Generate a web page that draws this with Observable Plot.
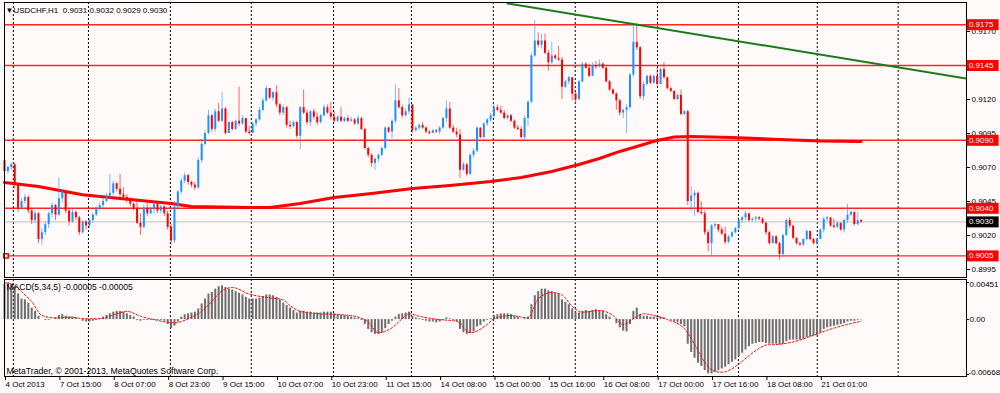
<!DOCTYPE html>
<html><head><meta charset="utf-8">
<script src="https://cdn.jsdelivr.net/npm/d3@7"></script>
<script src="https://cdn.jsdelivr.net/npm/@observablehq/plot@0.6"></script>
<style>
html,body{margin:0;padding:0;background:#fffafa;}
#chart svg{display:block;}
</style></head><body><div id="chart"></div>
<script>
// ---------- data ----------
const symbol = "USDCHF,H1";
const lastOHLC = [0.9031, 0.9032, 0.9029, 0.9030];
const firstOpen = 0.9075;
const close = [
0.9067,0.9070,0.9072,0.9057,0.9040,0.9045,0.9048,0.9038,0.9031,0.9036,
0.9017,0.9022,0.9028,0.9036,0.9042,0.9035,0.9047,0.9052,0.9038,0.9030,
0.9037,0.9033,0.9022,0.9030,0.9027,0.9031,0.9035,0.9040,0.9042,0.9045,
0.9049,0.9051,0.9058,0.9054,0.9050,0.9048,0.9047,0.9043,0.9040,0.9029,
0.9026,0.9040,0.9036,0.9039,0.9043,0.9038,0.9041,0.9036,0.9026,0.9016,
0.9041,0.9052,0.9060,0.9064,0.9059,0.9057,0.9055,0.9075,0.9087,0.9095,
0.9108,0.9098,0.9111,0.9104,0.9113,0.9095,0.9103,0.9098,0.9104,0.9102,
0.9106,0.9096,0.9095,0.9102,0.9105,0.9112,0.9119,0.9128,0.9121,0.9125,
0.9116,0.9110,0.9114,0.9101,0.9100,0.9103,0.9093,0.9114,0.9110,0.9103,
0.9111,0.9107,0.9103,0.9108,0.9114,0.9110,0.9107,0.9104,0.9107,0.9104,
0.9106,0.9104,0.9105,0.9102,0.9106,0.9098,0.9084,0.9079,0.9073,0.9076,
0.9079,0.9084,0.9099,0.9096,0.9104,0.9119,0.9114,0.9108,0.9111,0.9116,
0.9097,0.9099,0.9101,0.9099,0.9096,0.9095,0.9097,0.9096,0.9099,0.9106,
0.9113,0.9099,0.9096,0.9094,0.9068,0.9072,0.9065,0.9079,0.9082,0.9099,
0.9092,0.9102,0.9105,0.9108,0.9114,0.9112,0.9110,0.9106,0.9108,0.9104,
0.9099,0.9098,0.9092,0.9106,0.9118,0.9152,0.9163,0.9160,0.9163,0.9154,
0.9147,0.9152,0.9150,0.9149,0.9129,0.9133,0.9136,0.9124,0.9120,0.9133,
0.9146,0.9143,0.9137,0.9145,0.9144,0.9146,0.9143,0.9133,0.9127,0.9124,
0.9119,0.9110,0.9112,0.9114,0.9138,0.9162,0.9158,0.9122,0.9131,0.9137,
0.9132,0.9137,0.9131,0.9142,0.9136,0.9128,0.9126,0.9120,0.9123,0.9109,
0.9111,0.9045,0.9049,0.9051,0.9037,0.9036,0.9022,0.9014,0.9027,0.9028,
0.9024,0.9021,0.9015,0.9019,0.9022,0.9025,0.9031,0.9033,0.9036,0.9031,
0.9032,0.9033,0.9032,0.9029,0.9022,0.9014,0.9019,0.9014,0.9006,0.9020,
0.9031,0.9027,0.9018,0.9014,0.9013,0.9017,0.9023,0.9017,0.9014,0.9017,
0.9024,0.9032,0.9033,0.9027,0.9026,0.9029,0.9024,0.9031,0.9035,0.9037,
0.9028,0.9031,0.9030];
const high = [
0.9076,0.9071,0.9073,0.9073,0.9048,0.9047,0.9050,0.9049,0.9040,0.9038,
0.9037,0.9025,0.9030,0.9037,0.9044,0.9043,0.9062,0.9054,0.9052,0.9039,
0.9039,0.9038,0.9034,0.9031,0.9031,0.9032,0.9036,0.9041,0.9044,0.9047,
0.9051,0.9065,0.9060,0.9059,0.9065,0.9055,0.9050,0.9048,0.9044,0.9046,
0.9036,0.9042,0.9044,0.9041,0.9045,0.9044,0.9042,0.9042,0.9038,0.9028,
0.9045,0.9053,0.9062,0.9066,0.9065,0.9060,0.9059,0.9077,0.9089,0.9097,
0.9112,0.9109,0.9113,0.9117,0.9125,0.9114,0.9104,0.9104,0.9105,0.9129,
0.9108,0.9106,0.9100,0.9103,0.9106,0.9114,0.9121,0.9130,0.9128,0.9126,
0.9130,0.9117,0.9116,0.9115,0.9104,0.9104,0.9104,0.9115,0.9127,0.9112,
0.9112,0.9113,0.9110,0.9109,0.9116,0.9116,0.9118,0.9111,0.9108,0.9114,
0.9107,0.9108,0.9107,0.9106,0.9108,0.9107,0.9099,0.9085,0.9080,0.9077,
0.9080,0.9085,0.9100,0.9100,0.9105,0.9131,0.9128,0.9116,0.9113,0.9121,
0.9116,0.9100,0.9102,0.9103,0.9100,0.9097,0.9098,0.9098,0.9100,0.9107,
0.9119,0.9118,0.9101,0.9099,0.9098,0.9074,0.9073,0.9080,0.9084,0.9100,
0.9099,0.9103,0.9106,0.9110,0.9116,0.9116,0.9115,0.9112,0.9109,0.9109,
0.9105,0.9101,0.9100,0.9108,0.9119,0.9154,0.9178,0.9169,0.9168,0.9168,
0.9156,0.9162,0.9153,0.9159,0.9151,0.9134,0.9137,0.9136,0.9125,0.9134,
0.9147,0.9147,0.9146,0.9147,0.9148,0.9149,0.9147,0.9144,0.9134,0.9128,
0.9125,0.9120,0.9113,0.9116,0.9139,0.9176,0.9176,0.9159,0.9133,0.9138,
0.9138,0.9138,0.9143,0.9143,0.9147,0.9136,0.9129,0.9126,0.9124,0.9127,
0.9112,0.9112,0.9056,0.9053,0.9052,0.9045,0.9038,0.9024,0.9028,0.9029,
0.9028,0.9026,0.9026,0.9020,0.9023,0.9026,0.9032,0.9034,0.9038,0.9036,
0.9033,0.9034,0.9034,0.9033,0.9030,0.9023,0.9020,0.9020,0.9015,0.9021,
0.9032,0.9033,0.9027,0.9018,0.9015,0.9018,0.9024,0.9023,0.9018,0.9018,
0.9025,0.9033,0.9034,0.9033,0.9032,0.9030,0.9029,0.9032,0.9043,0.9038,
0.9037,0.9037,0.9032];
const low = [
0.9065,0.9065,0.9068,0.9054,0.9037,0.9039,0.9043,0.9036,0.9028,0.9029,
0.9014,0.9013,0.9020,0.9025,0.9033,0.9031,0.9034,0.9044,0.9036,0.9027,
0.9029,0.9031,0.9020,0.9021,0.9024,0.9025,0.9029,0.9034,0.9038,0.9040,
0.9044,0.9047,0.9049,0.9052,0.9048,0.9046,0.9044,0.9041,0.9038,0.9028,
0.9020,0.9025,0.9034,0.9035,0.9036,0.9036,0.9036,0.9034,0.9024,0.9013,
0.9014,0.9039,0.9050,0.9058,0.9057,0.9055,0.9053,0.9054,0.9073,0.9086,
0.9094,0.9096,0.9096,0.9103,0.9103,0.9094,0.9095,0.9097,0.9097,0.9100,
0.9101,0.9095,0.9094,0.9095,0.9100,0.9104,0.9111,0.9118,0.9120,0.9119,
0.9114,0.9108,0.9108,0.9099,0.9098,0.9099,0.9091,0.9083,0.9109,0.9101,
0.9100,0.9105,0.9101,0.9102,0.9107,0.9109,0.9105,0.9103,0.9103,0.9103,
0.9103,0.9103,0.9103,0.9101,0.9101,0.9097,0.9083,0.9077,0.9070,0.9068,
0.9074,0.9078,0.9083,0.9095,0.9091,0.9102,0.9113,0.9106,0.9107,0.9109,
0.9095,0.9096,0.9097,0.9098,0.9095,0.9094,0.9095,0.9095,0.9094,0.9098,
0.9103,0.9098,0.9095,0.9092,0.9062,0.9067,0.9063,0.9064,0.9077,0.9081,
0.9091,0.9091,0.9100,0.9103,0.9106,0.9111,0.9109,0.9105,0.9105,0.9103,
0.9098,0.9097,0.9091,0.9090,0.9100,0.9117,0.9151,0.9158,0.9157,0.9153,
0.9141,0.9146,0.9149,0.9148,0.9120,0.9128,0.9131,0.9119,0.9117,0.9119,
0.9132,0.9142,0.9136,0.9137,0.9142,0.9143,0.9142,0.9132,0.9126,0.9123,
0.9112,0.9108,0.9106,0.9095,0.9113,0.9136,0.9156,0.9120,0.9119,0.9130,
0.9131,0.9131,0.9130,0.9131,0.9135,0.9127,0.9125,0.9119,0.9119,0.9108,
0.9108,0.9042,0.9038,0.9034,0.9036,0.9035,0.9020,0.9008,0.9005,0.9025,
0.9022,0.9020,0.9013,0.9014,0.9018,0.9021,0.9024,0.9029,0.9031,0.9030,
0.9030,0.9030,0.9031,0.9028,0.9020,0.9013,0.9014,0.9013,0.9002,0.9004,
0.9019,0.9025,0.9017,0.9013,0.9012,0.9012,0.9016,0.9016,0.9013,0.9013,
0.9017,0.9022,0.9030,0.9026,0.9025,0.9025,0.9023,0.9022,0.9029,0.9034,
0.9027,0.9027,0.9029];

// moving average (thick red line), sampled at bar indices
const maIdx = [0,10,23,37,49,55,72,78,87,97,108,120,131,143,152,161,169,175,181,187,192,197,202,214,228,240,252];
const maVal = [0.9059,0.9056,0.9050,0.90465,0.90435,0.90413,0.90406,0.90406,0.90435,0.9048,0.90509,0.90546,0.90568,0.90597,0.90626,0.90671,0.90722,0.90766,0.90818,0.90862,0.90899,0.90924,0.90928,0.90921,0.90906,0.90895,0.90891];

// MACD(5,34,5) histogram, one value per bar
const macdHist = [
0.0043,0.0044,0.0043,0.0040,0.0031,0.0025,0.0024,0.0020,0.0014,0.0010,
0.0004,0.0000,-0.0001,-0.0001,0.0000,0.0002,0.0005,0.0006,0.0004,0.0003,
0.0003,0.0002,0.0000,-0.0002,-0.0003,-0.0003,-0.0002,-0.0001,0.0001,0.0003,
0.0005,0.0007,0.0009,0.0010,0.0010,0.0009,0.0007,0.0005,0.0003,-0.0001,
-0.0002,-0.0001,-0.0001,-0.0001,-0.0001,-0.0001,-0.0001,-0.0002,-0.0006,-0.0011,
-0.0008,-0.0003,0.0003,0.0006,0.0007,0.0008,0.0009,0.0013,0.0019,0.0025,
0.0031,0.0033,0.0037,0.0040,0.0041,0.0039,0.0037,0.0036,0.0034,0.0032,
0.0030,0.0027,0.0025,0.0025,0.0025,0.0026,0.0028,0.0030,0.0030,0.0029,
0.0027,0.0024,0.0020,0.0017,0.0014,0.0011,0.0008,0.0010,0.0010,0.0009,
0.0009,0.0008,0.0008,0.0008,0.0009,0.0009,0.0009,0.0007,0.0006,0.0005,
0.0005,0.0004,0.0003,0.0002,0.0001,-0.0001,-0.0006,-0.0012,-0.0016,-0.0018,
-0.0018,-0.0016,-0.0011,-0.0006,-0.0002,0.0003,0.0006,0.0007,0.0008,0.0009,
0.0004,0.0002,0.0001,-0.0001,-0.0002,-0.0003,-0.0003,-0.0004,-0.0003,-0.0001,
0.0002,0.0001,-0.0001,-0.0003,-0.0012,-0.0016,-0.0018,-0.0017,-0.0015,-0.0009,
-0.0007,-0.0003,-0.0001,0.0001,0.0005,0.0006,0.0007,0.0007,0.0007,0.0006,
0.0004,0.0003,0.0000,0.0001,0.0003,0.0018,0.0029,0.0034,0.0037,0.0037,
0.0035,0.0034,0.0032,0.0031,0.0024,0.0021,0.0018,0.0013,0.0008,0.0008,
0.0010,0.0011,0.0010,0.0011,0.0012,0.0011,0.0010,0.0006,0.0003,0.0000,
-0.0005,-0.0010,-0.0014,-0.0015,-0.0006,0.0010,0.0014,0.0006,0.0004,0.0004,
0.0003,0.0003,0.0002,0.0003,0.0002,0.0000,-0.0001,-0.0003,-0.0004,-0.0006,
-0.0009,-0.0030,-0.0040,-0.0047,-0.0053,-0.0057,-0.0062,-0.0066,-0.0066,-0.0064,
-0.0062,-0.0060,-0.0058,-0.0055,-0.0052,-0.0049,-0.0045,-0.0041,-0.0037,-0.0033,
-0.0030,-0.0029,-0.0028,-0.0028,-0.0029,-0.0030,-0.0030,-0.0030,-0.0031,-0.0030,
-0.0027,-0.0025,-0.0025,-0.0025,-0.0025,-0.0024,-0.0022,-0.0021,-0.0020,-0.0019,
-0.0016,-0.0012,-0.0010,-0.0009,-0.0008,-0.0007,-0.0006,-0.0005,-0.0003,-0.0002,
-0.0002,-0.0001,-0.00005];
// MACD signal line (red dotted)
const sigIdx = [0,3,5,8,11,15,19,24,28,33,36,40,44,50,55,58,61,64,67,72,77,82,84,87,93,99,104,107,110,114,117,119,122,128,133,137,142,144,149,154,157,161,164,167,170,175,179,182,185,188,192,195,200,203,206,209,211,213,216,219,222,224,228,234,238,242,246,252];
const sigVal = [0.0045,0.0042,0.0034,0.0022,0.0005,0.0002,0.0003,0.0001,0.0001,0.0007,0.0010,0.0004,0.0000,-0.0004,0.0003,0.0010,0.0022,0.0035,0.0039,0.0031,0.0027,0.0024,0.0017,0.0010,0.0007,0.0006,0.0003,-0.0003,-0.0016,-0.0010,0.0001,0.0007,0.0004,0.0000,-0.0002,-0.0016,-0.0006,0.0001,0.0005,0.0002,0.0025,0.0033,0.0030,0.0016,0.0009,0.0011,0.0005,-0.0006,0.0001,0.0007,0.0004,0.0000,-0.0011,-0.0030,-0.0052,-0.0063,-0.0064,-0.0062,-0.0054,-0.0044,-0.0035,-0.0031,-0.0030,-0.0025,-0.0019,-0.0013,-0.0008,-0.0002];
const macdName = "MACD(5,34,5)";
const macdNow = [-0.00005, -0.00005];
const macdTicks = [0.00451, 0, -0.00668];

// horizontal levels, bid line, trend line
const levels = [0.9175, 0.9145, 0.9090, 0.9040, 0.9005];
const bidLevel = 0.9030;
const trendIdx = [148, 283];
const trendVal = [0.91906, 0.91354];

// axes
const priceTicks = [0.8995, 0.9020, 0.9045, 0.9070, 0.9095, 0.9120, 0.9145, 0.9170];
const timeIdx = [0,16,32,48,64,80,96,112,128,144,160,176,192,208,224,240];
const timeLabels = ["4 Oct 2013","7 Oct 15:00","8 Oct 07:00","8 Oct 23:00","9 Oct 15:00","10 Oct 07:00","10 Oct 23:00","11 Oct 15:00","14 Oct 08:00","15 Oct 00:00","15 Oct 16:00","16 Oct 08:00","17 Oct 00:00","17 Oct 16:00","18 Oct 08:00","21 Oct 01:00"];
const dayStartIdx = [2.6, 24.7, 48.8, 72.6, 96.8, 119.7, 143.8, 167.9, 192.1, 215.9, 239.1, 262.9];
const copyright = "MetaTrader, \u00a9 2001-2013, MetaQuotes Software Corp.";

// ---------- drawing ----------
const BLUE = "#1e90ff", RED = "#ff0000", BG = "#fffafa";
const font = "'Liberation Sans', Arial, sans-serif";
const xDomain = [0, 283];
const bars = close.map((c, i) => {
  const o = i === 0 ? firstOpen : close[i - 1];
  return {i, o, c, h: high[i], l: low[i], col: c >= o ? BLUE : RED};
});
const header = "\u25BC" + symbol + "\u00a0\u00a0" + lastOHLC.map(d => d.toFixed(4)).join(" ");
const styleObj = {background: BG, fontFamily: font, fontSize: "8px", color: "#000"};
// tick labels hidden in the reference behind an identical level label are not written
const tickText = d => levels.some(l => Math.abs(l - d) < 1e-9) ? "" : d.toFixed(4);

const main = Plot.plot({
  width: 1000, height: 278,
  marginLeft: 4, marginRight: 34, marginTop: 2, marginBottom: 1,
  x: {domain: xDomain, axis: null},
  y: {domain: [0.898912, 0.919132], label: null},
  color: {type: "identity"},
  style: styleObj,
  marks: [
    Plot.ruleX(dayStartIdx, {stroke: "#000", strokeDasharray: "2,2"}),
    Plot.ruleY(levels, {stroke: RED, strokeWidth: 1.4, strokeOpacity: 0.85}),
    Plot.ruleY([bidLevel], {stroke: "#c0c0c0"}),
    Plot.line(maIdx, {x: d => d, y: (d, i) => maVal[i], stroke: RED, strokeWidth: 3}),
    Plot.ruleX(bars, {x: "i", y1: "l", y2: "h", stroke: "col", strokeOpacity: 0.6}),
    Plot.ruleX(bars, {x: "i", y1: "o", y2: "c", stroke: "col", strokeWidth: 2}),
    Plot.line(trendIdx, {x: d => d, y: (d, i) => trendVal[i], stroke: "#1a7a1a", strokeWidth: 2, clip: true}),
    Plot.dot([0], {x: d => d, y: () => levels[4], symbol: "square", r: 2.5, stroke: RED, fill: BG, dx: 1.5}),
    Plot.frame({stroke: "#000"}),
    Plot.axisY(priceTicks, {anchor: "right", tickSize: 3, tickPadding: 2, tickFormat: tickText, label: null, fontSize: 8}),
    Plot.ruleY(levels, {x1: 283.3, x2: 292.6, stroke: RED, strokeWidth: 11}),
    Plot.ruleY([bidLevel], {x1: 283.3, x2: 292.6, stroke: "#000", strokeWidth: 11}),
    Plot.text(levels, {x: 283.7, y: d => d, text: d => d.toFixed(4), fill: "#fff", textAnchor: "start", fontSize: 8}),
    Plot.text([bidLevel], {x: 283.7, y: d => d, text: d => d.toFixed(4), fill: "#fff", textAnchor: "start", fontSize: 8}),
    Plot.text([header], {frameAnchor: "top-left", dx: 1, dy: 8, lineAnchor: "middle", textAnchor: "start", fontSize: 8})
  ]
});

const labelByIdx = new Map(timeIdx.map((d, k) => [d, timeLabels[k]]));
const macd = Plot.plot({
  width: 1000, height: 115,
  marginLeft: 4, marginRight: 34, marginTop: 1, marginBottom: 17,
  x: {domain: xDomain, label: null},
  y: {domain: [-0.006923, 0.004875], axis: null},
  style: styleObj,
  marks: [
    Plot.ruleX(dayStartIdx, {stroke: "#000", strokeDasharray: "2,2"}),
    Plot.ruleX(macdHist, {x: (d, i) => i, y1: 0, y2: d => d, stroke: "#6e6e6e", strokeWidth: 2}),
    Plot.line(sigIdx, {x: d => d, y: (d, i) => sigVal[i], stroke: RED, strokeWidth: 1, strokeDasharray: "2,2", curve: "monotone-x"}),
    Plot.frame({stroke: "#000"}),
    Plot.axisX(timeIdx, {anchor: "bottom", tickSize: 4, tickPadding: 1, tickFormat: d => labelByIdx.get(d), textAnchor: "start", dx: 1, label: null, fontSize: 8}),
    Plot.ruleY(macdTicks, {x1: 283, x2: 283.9, stroke: "#000"}),
    Plot.text([macdTicks[0]], {x: 283.9, y: d => d, text: d => d.toFixed(5), textAnchor: "start", dy: 2, fontSize: 8}),
    Plot.text([macdTicks[1]], {x: 283.9, y: d => d, text: () => "0.00", textAnchor: "start", fontSize: 8}),
    Plot.text([macdTicks[2]], {x: 283.6, y: d => d, text: d => d.toFixed(5), textAnchor: "start", dy: -2, fontSize: 8}),
    Plot.text([macdName + " " + macdNow.map(d => d.toFixed(5)).join(" ")], {frameAnchor: "top-left", dx: 2, dy: 8, lineAnchor: "middle", textAnchor: "start", fontSize: 8.5}),
    Plot.text([copyright], {frameAnchor: "bottom-left", dx: 2, dy: -5, lineAnchor: "middle", textAnchor: "start", fontSize: 8.7})
  ]
});

document.getElementById("chart").append(main, macd);
</script>
</body></html>
